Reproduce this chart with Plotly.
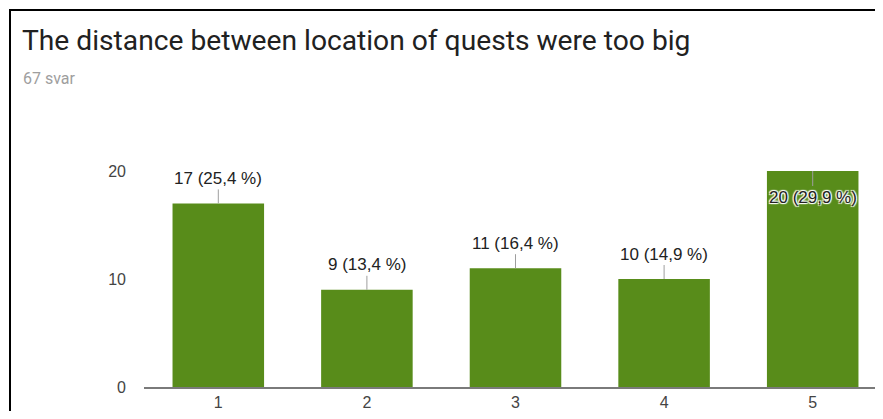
import plotly.graph_objects as go

categories = ["1", "2", "3", "4", "5"]
counts = [17, 9, 11, 10, 20]
percents = ["25,4", "13,4", "16,4", "14,9", "29,9"]
y_ticks = [0, 10, 20]
title_text = "The distance between location of quests were too big"
subtitle_text = "67 svar"

# The page body has an 8px margin, so figure pixels = screen pixels - 8.
OFF = 8
W, H = 883 - 2 * OFF, 419 - 2 * OFF
ML, MR, MT, MB = 144 - OFF, 0, 171 - OFF, H - (389 - OFF)
PW = W - ML - MR
PH = H - MT - MB
Y_MAX = 20


def px_x(sx):
    return (sx - OFF - ML) / PW


def px_y(sy):
    return (H - MB - (sy - OFF)) / PH


fig = go.Figure()
fig.add_trace(go.Bar(
    x=[int(c) for c in categories],
    y=counts,
    marker=dict(color="#588c1a", line=dict(width=0)),
    hoverinfo="skip",
))

annotations = []
for c, v, p in zip(categories, counts, percents):
    inside = v >= Y_MAX * 0.95
    annotations.append(dict(
        x=int(c), y=v, xref="x", yref="y",
        text=f"{v} ({p} %)",
        showarrow=True, arrowhead=0, arrowwidth=1, arrowcolor="#9e9e9e",
        ax=0, ay=26 if inside else -25,
        font=dict(family="Liberation Sans, Arial", size=17, color="#222222",
                  shadow=("1px 1px 1px #fff, -1px -1px 1px #fff, 1px -1px 1px #fff, -1px 1px 1px #fff"
                          if inside else "none")),
    ))

annotations.append(dict(
    x=px_x(21), y=px_y(78), xref="paper", yref="paper",
    xanchor="left", yanchor="middle", showarrow=False,
    text=subtitle_text,
    font=dict(family="Roboto", size=16, color="#9e9e9e"),
))

shapes = [
    dict(type="line", xref="paper", yref="paper",
         x0=px_x(9), x1=px_x(900), y0=px_y(8.5), y1=px_y(8.5),
         line=dict(color="#000000", width=2)),
    dict(type="line", xref="paper", yref="paper",
         x0=px_x(10), x1=px_x(10), y0=px_y(7.5), y1=px_y(430),
         line=dict(color="#000000", width=2)),
]

fig.update_layout(
    width=W, height=H,
    margin=dict(l=ML, r=MR, t=MT, b=MB),
    paper_bgcolor="#ffffff", plot_bgcolor="#ffffff",
    showlegend=False,
    bargap=0.384,
    title=dict(text=title_text, xref="container", yref="container",
               x=(22 - OFF) / W, y=1 - (40 - OFF) / H, xanchor="left", yanchor="middle",
               font=dict(family="Roboto", size=28.2, color="#212121")),
    xaxis=dict(range=[0.5, 0.5 + PW / 148.6], tickmode="array",
               tickvals=[int(c) for c in categories], ticktext=categories,
               showgrid=False, zeroline=False, showline=True,
               linecolor="#7a7a7a", linewidth=2, ticks="",
               tickfont=dict(family="Liberation Sans, Arial", size=16, color="#444444")),
    yaxis=dict(range=[0, Y_MAX], tickmode="array", tickvals=y_ticks,
               showgrid=False, zeroline=False, showline=False, ticks="",
               ticklabelstandoff=17,
               tickfont=dict(family="Liberation Sans, Arial", size=16, color="#444444")),
    annotations=annotations,
    shapes=shapes,
)

fig.write_html("out.html")
